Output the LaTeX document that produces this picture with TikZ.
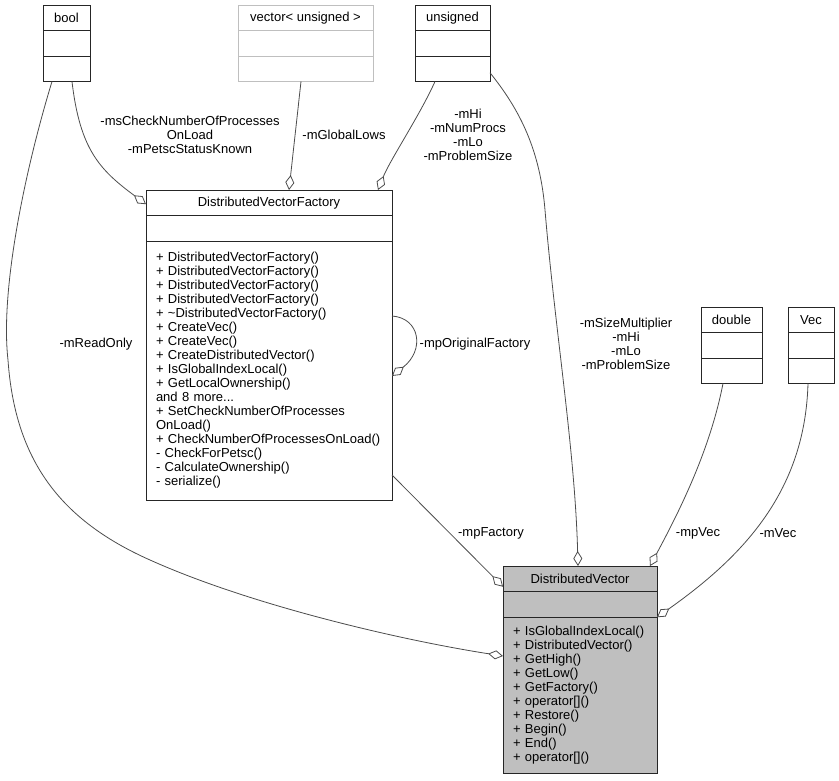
\documentclass[tikz,border=0pt]{standalone}
\usepackage{fontspec}
\setmainfont{Liberation Sans}
\usetikzlibrary{positioning,arrows.meta}

\tikzset{
  umlpart/.style={draw=black!85, fill=white, line width=0.9pt, inner sep=0pt, outer sep=0pt, minimum height=25.5},
  umllist/.style={umlpart, align=left, inner xsep=10pt},
  agg/.style={draw=black!70, line width=0.8pt, -{Diamond[fill=white, length=15pt, width=9pt, line width=0.8pt]}},
  role/.style={align=center, inner sep=0pt},
}

\begin{document}
\begin{tikzpicture}[x=1pt, y=-1pt, font=\fontsize{13}{14}\selectfont]
  \useasboundingbox (0,0) rectangle (839,781);
  % bool
  \node[umlpart, minimum width=47, anchor=north west] (bool1) at (43,5) {bool};
  \node[umlpart, minimum width=47, below=0pt of bool1] (bool2) {};
  \node[umlpart, minimum width=47, below=0pt of bool2] (bool3) {};
  % vector< unsigned >
  \node[umlpart, draw=black!25, minimum width=135, anchor=north west] (vecu1) at (238,5) {vector< unsigned >};
  \node[umlpart, draw=black!25, minimum width=135, below=0pt of vecu1] (vecu2) {};
  \node[umlpart, draw=black!25, minimum width=135, below=0pt of vecu2] (vecu3) {};
  % unsigned
  \node[umlpart, minimum width=75, anchor=north west] (uns1) at (415,5) {unsigned};
  \node[umlpart, minimum width=75, below=0pt of uns1] (uns2) {};
  \node[umlpart, minimum width=75, below=0pt of uns2] (uns3) {};
  % DistributedVectorFactory
  \node[umlpart, minimum width=246, anchor=north west] (dvf1) at (146,190) {DistributedVectorFactory};
  \node[umlpart, minimum width=246, below=0pt of dvf1] (dvf2) {};
  \node[umllist, text width=226, minimum height=259, below=0pt of dvf2] (dvf3) {%
    + DistributedVectorFactory()\\
    + DistributedVectorFactory()\\
    + DistributedVectorFactory()\\
    + DistributedVectorFactory()\\
    + \textasciitilde DistributedVectorFactory()\\
    + CreateVec()\\
    + CreateVec()\\
    + CreateDistributedVector()\\
    + IsGlobalIndexLocal()\\
    + GetLocalOwnership()\\
    and 8 more...\\
    + SetCheckNumberOfProcesses\\
    OnLoad()\\
    + CheckNumberOfProcessesOnLoad()\\
    - CheckForPetsc()\\
    - CalculateOwnership()\\
    - serialize()};
  % double
  \node[umlpart, minimum width=61, anchor=north west] (dbl1) at (701,307) {double};
  \node[umlpart, minimum width=61, below=0pt of dbl1] (dbl2) {};
  \node[umlpart, minimum width=61, below=0pt of dbl2] (dbl3) {};
  % Vec
  \node[umlpart, minimum width=46, anchor=north west] (vec1) at (788,307) {Vec};
  \node[umlpart, minimum width=46, below=0pt of vec1] (vec2) {};
  \node[umlpart, minimum width=46, below=0pt of vec2] (vec3) {};
  % DistributedVector
  \node[umlpart, fill=black!25, minimum width=154, anchor=north west] (dv1) at (503,566) {DistributedVector};
  \node[umlpart, fill=black!25, minimum width=154, below=0pt of dv1] (dv2) {};
  \node[umllist, fill=black!25, text width=134, minimum height=156, below=0pt of dv2] (dv3) {%
    + IsGlobalIndexLocal()\\
    + DistributedVector()\\
    + GetHigh()\\
    + GetLow()\\
    + GetFactory()\\
    + operator[]()\\
    + Restore()\\
    + Begin()\\
    + End()\\
    + operator[]()};
  % Aggregations
  \draw[agg] ([xshift=-14.5pt]bool3.south) .. controls (25,170) and (0,290) .. (8,360)
    .. controls (15,460) and (60,520) .. (150,560)
    .. controls (250,605) and (400,640) .. ([yshift=-39pt]dv3.north west);
  \draw[agg] ([xshift=5.5pt]bool3.south) .. controls (80,150) and (100,170) .. ([yshift=-1.5pt]dvf1.west);
  \draw[agg] ([xshift=-4.5pt]vecu3.south) -- ([xshift=20pt]dvf1.north);
  \draw[agg] ([xshift=-17.5pt]uns3.south) .. controls (420,115) and (390,160) .. ([xshift=109pt]dvf1.north);
  \draw[agg] ([yshift=-4pt]uns3.east) .. controls (520,110) and (540,150) .. (545,210)
    .. controls (555,330) and (575,450) .. ([xshift=-2pt]dv1.north);
  \draw[agg] ([yshift=54.5pt]dvf3.east) .. controls (420,318) and (425,350) .. ([yshift=-5.5pt]dvf3.east);
  \draw[agg] ([yshift=-104.5pt]dvf3.east) -- ([yshift=-8pt]dv1.west);
  \draw[agg] ([xshift=-8.5pt]dbl3.south) .. controls (710,450) and (680,510) .. ([xshift=70pt]dv1.north);
  \draw[agg] ([xshift=-3pt]vec3.south) .. controls (805,490) and (745,555) .. ([yshift=-13pt]dv2.east);
  % Role labels
  \node[role] (readonly) at (96,344) {-mReadOnly};
  \node[role] (chkload) at (190,135) {-msCheckNumberOfProcesses\\OnLoad\\-mPetscStatusKnown};
  \node[role] (globallows) at (344,135) {-mGlobalLows};
  \node[role] (unsroles) at (468,135) {-mHi\\-mNumProcs\\-mLo\\-mProblemSize};
  \node[role] (sizeroles) at (626,344) {-mSizeMultiplier\\-mHi\\-mLo\\-mProblemSize};
  \node[role] (origfac) at (475,344) {-mpOriginalFactory};
  \node[role] (pfactory) at (491,533) {-mpFactory};
  \node[role] (pvec) at (698,533) {-mpVec};
  \node[role] (mvec) at (778,533) {-mVec};
\end{tikzpicture}
\end{document}
